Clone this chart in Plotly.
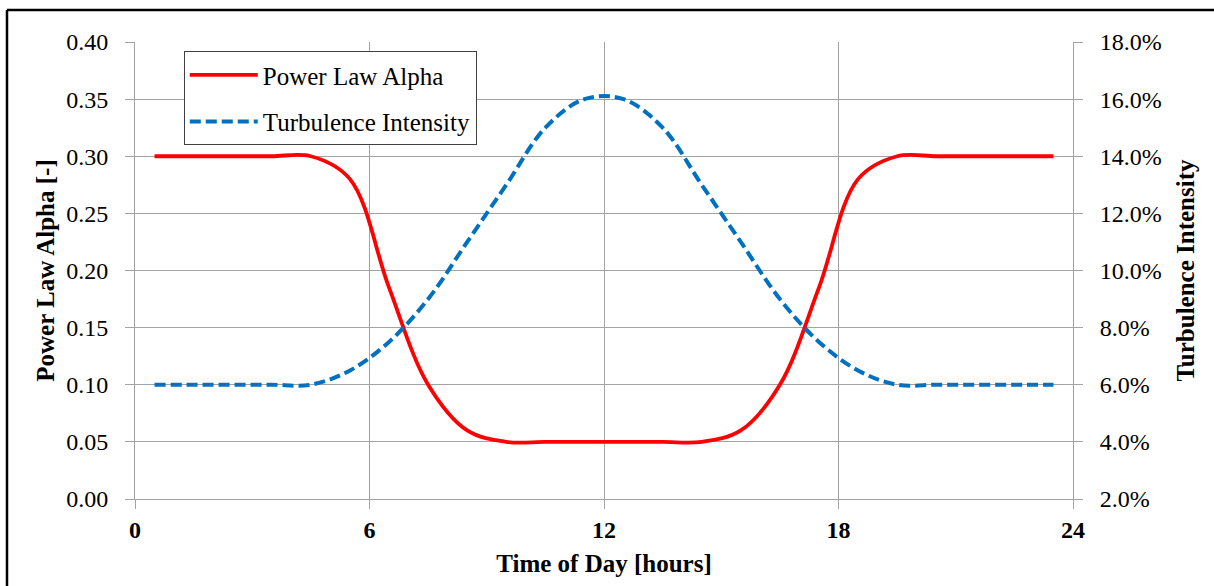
import plotly.graph_objects as go

# Hourly values, plotted at the middle of each hour
hours = [h + 0.5 for h in range(24)]
power_law_alpha = [0.30, 0.30, 0.30, 0.30, 0.30, 0.28, 0.185, 0.10, 0.06, 0.05, 0.05, 0.05,
                   0.05, 0.05, 0.05, 0.06, 0.10, 0.185, 0.28, 0.30, 0.30, 0.30, 0.30, 0.30]
turbulence_intensity = [0.060, 0.060, 0.060, 0.060, 0.060, 0.065, 0.075, 0.090, 0.110, 0.130, 0.150, 0.160,
                        0.160, 0.150, 0.130, 0.110, 0.090, 0.075, 0.065, 0.060, 0.060, 0.060, 0.060, 0.060]

x_ticks = [0, 6, 12, 18, 24]

FONT = "Liberation Serif, Times New Roman, serif"
GRID = "#a3a3a3"
TICK_SIZE = 24
TITLE_SIZE = 25

fig = go.Figure()
fig.add_trace(go.Scatter(
    x=hours, y=power_law_alpha, name="Power Law Alpha", mode="lines",
    line=dict(color="#ff0000", width=3.8, shape="spline", smoothing=1.0),
    legendgroup="a", yaxis="y",
))
fig.add_trace(go.Scatter(
    x=hours, y=turbulence_intensity, name="Turbulence Intensity", mode="lines",
    line=dict(color="#0070c0", width=4, shape="spline", smoothing=1.0, dash="11px,5px"),
    legendgroup="b", yaxis="y2",
))

axis_common = dict(
    showgrid=True, gridcolor=GRID, gridwidth=1,
    showline=True, linecolor=GRID, linewidth=1,
    ticks="outside", ticklen=9, tickcolor=GRID, tickwidth=1,
    zeroline=False,
    tickfont=dict(family=FONT, size=TICK_SIZE, color="#000000"),
)

fig.update_layout(
    width=1214, height=586,
    margin=dict(l=135, r=141, t=42, b=87),
    paper_bgcolor="white", plot_bgcolor="white",
    font=dict(family=FONT, size=20, color="#000000"),
    xaxis=dict(
        range=[0, 24], tickvals=x_ticks, ticktext=[f"<b>{t}</b>" for t in x_ticks],
        ticklabelstandoff=0,
        title=dict(text="<b>Time of Day [hours]</b>", standoff=12,
                   font=dict(family=FONT, size=TITLE_SIZE)),
        **axis_common,
    ),
    yaxis=dict(
        range=[0, 0.40], dtick=0.05, tickformat=".2f",
        ticklabelstandoff=12,
        title=dict(text="<b>Power Law Alpha [-]</b>", standoff=4,
                   font=dict(family=FONT, size=TITLE_SIZE)),
        **axis_common,
    ),
    yaxis2=dict(
        range=[0.02, 0.18], dtick=0.02, tickformat=".1%",
        overlaying="y", side="right",
        ticklabelstandoff=12,
        title=dict(text="<b>Turbulence Intensity</b>", standoff=15,
                   font=dict(family=FONT, size=TITLE_SIZE)),
        **axis_common,
    ),
    legend=dict(
        x=0.052, y=0.98, xanchor="left", yanchor="top",
        bgcolor="white", bordercolor="#404040", borderwidth=1,
        font=dict(family=FONT, size=25),
        traceorder="grouped", tracegroupgap=11,
        itemwidth=68,
    ),
    showlegend=True,
)

# Frame lines around the figure (top and left edges)
fig.add_shape(type="line", xref="paper", yref="paper",
              x0=(7 - 135) / 938, x1=1.2, y0=(499 - 10) / 457, y1=(499 - 10) / 457,
              line=dict(color="black", width=2.5))
fig.add_shape(type="line", xref="paper", yref="paper",
              x0=(7 - 135) / 938, x1=(7 - 135) / 938, y0=(499 - 10) / 457, y1=-0.3,
              line=dict(color="black", width=2.5))

fig.write_html("out.html")
